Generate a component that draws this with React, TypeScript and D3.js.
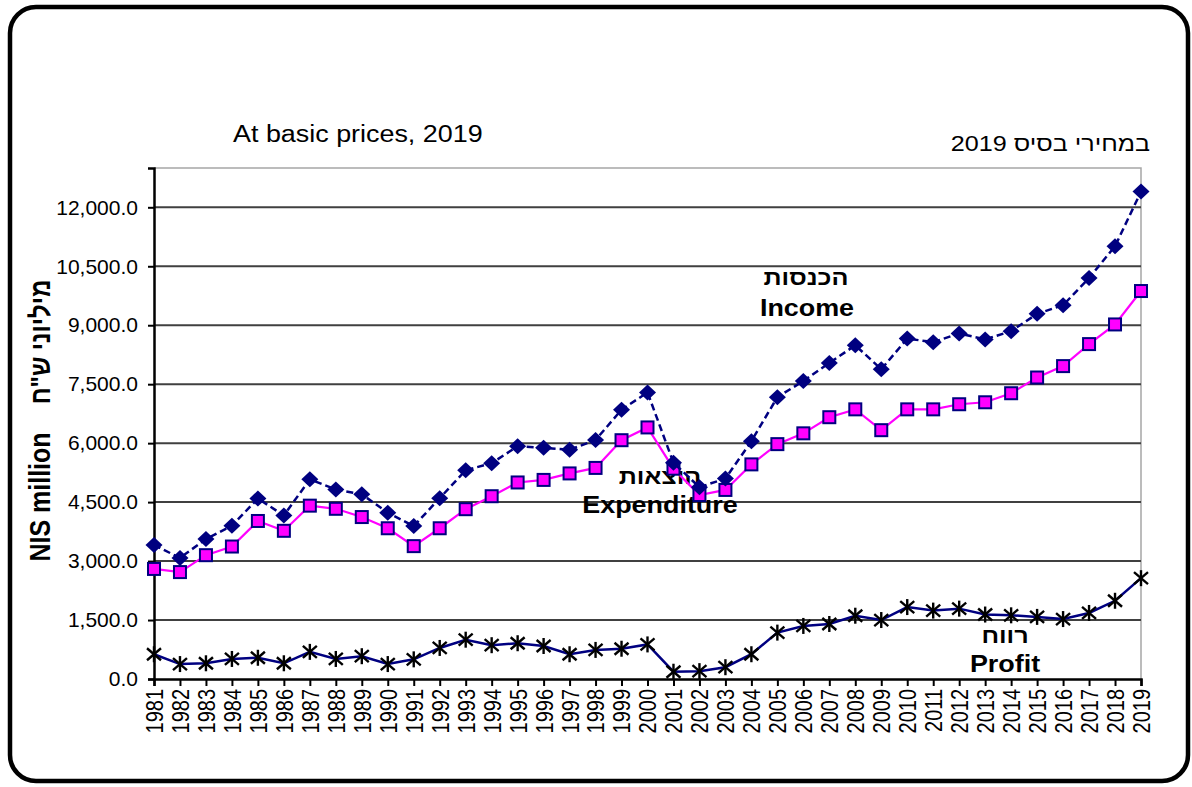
import { useEffect, useRef } from "react";
import * as d3 from "d3";

// categories
const years = [
  "1981", "1982", "1983", "1984", "1985", "1986", "1987", "1988", "1989", "1990",
  "1991", "1992", "1993", "1994", "1995", "1996", "1997", "1998", "1999", "2000",
  "2001", "2002", "2003", "2004", "2005", "2006", "2007", "2008", "2009", "2010",
  "2011", "2012", "2013", "2014", "2015", "2016", "2017", "2018", "2019",
];

// NIS million, basic prices 2019
const income = [
  3410, 3080, 3560, 3900, 4590, 4160, 5080, 4820, 4700, 4230,
  3890, 4600, 5310, 5490, 5920, 5880, 5830, 6080, 6850, 7290,
  5500, 4880, 5100, 6050, 7170, 7580, 8040, 8490, 7880, 8660,
  8570, 8790, 8640, 8850, 9290, 9510, 10200, 11010, 12400,
];
const expenditure = [
  2800, 2720, 3150, 3370, 4020, 3770, 4410, 4330, 4120, 3835,
  3380, 3835, 4320, 4650, 5000, 5065, 5230, 5370, 6075, 6400,
  5350, 4680, 4810, 5460, 5975, 6250, 6660, 6860, 6330, 6860,
  6860, 6990, 7040, 7270, 7670, 7960, 8520, 9020, 9870,
];
const profit = [
  630, 380, 400, 510, 540, 400, 690, 510, 580, 380,
  500, 790, 1000, 860, 910, 840, 630, 740, 770, 880,
  185, 200, 300, 630, 1180, 1350, 1400, 1610, 1500, 1830,
  1740, 1790, 1640, 1620, 1580, 1525, 1680, 1990, 2565,
];

const yTicks = [0, 1500, 3000, 4500, 6000, 7500, 9000, 10500, 12000];

const W = 1192;
const H = 787;
const margin = { left: 154, right: 51, top: 168, bottom: 108 };
const FONT = "Arial, 'Liberation Sans', sans-serif";
const NAVY = "#000080";
const MAGENTA = "#ff00ff";
// the original picture is a bit wider than tall, so text is stretched sideways
const SX = 1.17;

const at = (x: number, y: number) => `translate(${x},${y}) scale(${SX},1)`;

const App = () => {
  const xAxisRef = useRef<SVGGElement | null>(null);
  const yAxisRef = useRef<SVGGElement | null>(null);

  const x = d3
    .scalePoint<string>()
    .domain(years)
    .range([margin.left, W - margin.right]);
  const y = d3
    .scaleLinear()
    .domain([0, 13000])
    .range([H - margin.bottom, margin.top]);

  const pts = (vals: number[]) => vals.map((v, i) => [x(years[i]) as number, y(v)] as [number, number]);
  const line = d3.line<[number, number]>();

  useEffect(() => {
    const ya = d3.select(yAxisRef.current);
    ya.selectAll("*").remove();
    ya.call(
      d3
        .axisLeft(y)
        .tickValues(yTicks)
        .tickFormat(d3.format(",.1f") as any)
        .tickSize(6)
        .tickPadding(10)
    );
    ya.select(".domain").attr("stroke", "#000").attr("stroke-width", 2.5);
    ya.selectAll(".tick line").attr("stroke", "#000").attr("stroke-width", 2);
    ya.selectAll(".tick text")
      .attr("font-family", FONT)
      .attr("font-size", 21)
      .attr("fill", "#000");

    const xa = d3.select(xAxisRef.current);
    xa.selectAll("*").remove();
    xa.call(d3.axisBottom(x).tickSize(7).tickPadding(9));
    xa.select(".domain").attr("stroke", "#000").attr("stroke-width", 2.5);
    xa.selectAll(".tick line").attr("stroke", "#000").attr("stroke-width", 2);
    xa.selectAll(".tick text")
      .attr("font-family", FONT)
      .attr("font-size", 20)
      .attr("fill", "#000")
      .attr("text-anchor", "end")
      .attr("transform", `scale(${SX},1) rotate(-90)`)
      .attr("x", -10)
      .attr("y", 0)
      .attr("dy", "0.36em");
  }, []);

  const x0 = margin.left;
  const x1 = W - margin.right;
  const yTop = margin.top;
  const yBot = H - margin.bottom;

  return (
    <svg
      width={W}
      height={H}
      style={{ position: "absolute", left: 0, top: 0, background: "#fff" }}
    >
      <rect x={10} y={7} width={1178} height={774} rx={26} ry={26} fill="#fff" stroke="#000" strokeWidth={4.5} />

      {/* plot frame + gridlines */}
      <path d={`M${x0},${yTop}H${x1}V${yBot}`} fill="none" stroke="#a6a6a6" strokeWidth={1.5} />
      {yTicks.filter((t) => t > 0).map((t) => (
        <line key={t} x1={x0} x2={x1} y1={y(t)} y2={y(t)} stroke="#404040" strokeWidth={2} />
      ))}

      <text transform={at(233, 142)} fontFamily={FONT} fontSize={23} fill="#000">At basic prices, 2019</text>
      <text transform={at(1150, 151)} fontFamily={FONT} fontSize={21.5} fill="#000" textAnchor="start" direction="rtl">במחירי בסיס 2019</text>

      <text transform="translate(50,497) scale(1.17,1) rotate(-90)" fontFamily={FONT} fontSize={25} fontWeight="bold" textAnchor="middle">NIS million</text>
      <text transform="translate(50,342) scale(1.17,1) rotate(-90)" fontFamily={FONT} fontSize={24} fontWeight="bold" textAnchor="middle" direction="rtl">מיליוני ש"ח</text>

      {/* series labels */}
      <g fontFamily={FONT} fontSize={23} fontWeight="bold" textAnchor="middle" fill="#000">
        <text transform={at(806, 285)} direction="rtl" fontSize={21.5}>הכנסות</text>
        <text transform={at(807, 316)}>Income</text>
        <text transform={at(660, 484)} direction="rtl" fontSize={21.5}>הוצאות</text>
        <text transform={at(660, 513)}>Expenditure</text>
        <text transform={at(1005, 643)} direction="rtl" fontSize={21.5}>רווח</text>
        <text transform={at(1005, 672)}>Profit</text>
      </g>

      <g ref={yAxisRef} transform={`translate(${x0},0)`} />
      <g ref={xAxisRef} transform={`translate(0,${yBot})`} />

      {/* profit */}
      <path d={line(pts(profit)) || ""} fill="none" stroke={NAVY} strokeWidth={2.5} />
      {pts(profit).map(([px, py], i) => (
        <g key={"p" + i} stroke="#000" strokeWidth={2.4}>
          <line x1={px - 7} x2={px + 7} y1={py - 6} y2={py + 6} />
          <line x1={px - 7} x2={px + 7} y1={py + 6} y2={py - 6} />
          <line x1={px} x2={px} y1={py - 8} y2={py + 8} />
        </g>
      ))}

      {/* expenditure */}
      <path d={line(pts(expenditure)) || ""} fill="none" stroke={MAGENTA} strokeWidth={2.2} />
      {pts(expenditure).map(([px, py], i) => (
        <rect key={"e" + i} x={px - 6} y={py - 6} width={12} height={12} fill={MAGENTA} stroke={NAVY} strokeWidth={2} />
      ))}

      {/* income */}
      <path d={line(pts(income)) || ""} fill="none" stroke={NAVY} strokeWidth={2.5} strokeDasharray="7,4" />
      {pts(income).map(([px, py], i) => (
        <path key={"i" + i} d={`M${px},${py - 8}L${px + 8.5},${py}L${px},${py + 8}L${px - 8.5},${py}Z`} fill={NAVY} />
      ))}
    </svg>
  );
};

export default App;
